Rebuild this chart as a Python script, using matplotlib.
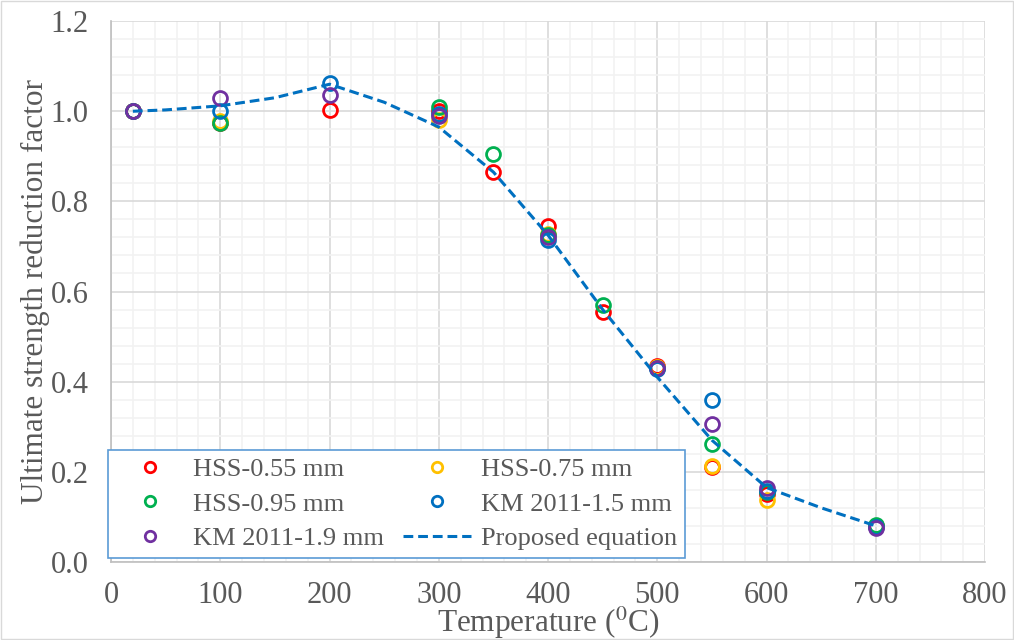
import matplotlib.pyplot as plt
from matplotlib.patches import Rectangle
from matplotlib.ticker import MultipleLocator

plt.rcParams['font.family'] = ['Liberation Serif', 'DejaVu Serif']
plt.rcParams['mathtext.fontset'] = 'stix'

# Test data (temperature in deg C, reduction factor)
t_055 = [20, 100, 200, 300, 350, 400, 450, 500, 550, 600, 700]
f_055 = [1.0, 0.975, 1.003, 1.0, 0.865, 0.745, 0.555, 0.435, 0.21, 0.15, 0.08]

t_075 = [20, 100, 300, 400, 500, 550, 600, 700]
f_075 = [1.0, 0.978, 0.98, 0.727, 0.432, 0.213, 0.137, 0.08]

t_095 = [20, 100, 300, 350, 400, 450, 500, 550, 600, 700]
f_095 = [1.0, 0.975, 1.01, 0.905, 0.725, 0.57, 0.43, 0.262, 0.155, 0.083]

t_km15 = [20, 100, 200, 300, 400, 500, 550, 600, 700]
f_km15 = [1.0, 1.0, 1.063, 0.995, 0.715, 0.428, 0.36, 0.158, 0.078]

t_km19 = [20, 100, 200, 300, 400, 500, 550, 600, 700]
f_km19 = [1.0, 1.03, 1.035, 0.99, 0.72, 0.43, 0.305, 0.163, 0.075]

# proposed equation curve
t_eq = [20, 50, 100, 150, 200, 250, 300, 350, 400, 450, 500, 550, 600, 650, 700]
f_eq = [1.0, 1.003, 1.012, 1.03, 1.06, 1.02, 0.965, 0.865, 0.725, 0.56, 0.41, 0.27, 0.165, 0.12, 0.08]

fig = plt.figure(figsize=(10.14, 6.4), dpi=100)
ax = fig.add_axes([0.1095, 0.122, 0.862, 0.845])

mk = dict(linestyle='none', marker='o', markersize=10, markerfacecolor='none', markeredgewidth=2)
h1, = ax.plot(t_055, f_055, color='#FF0000', label='HSS-0.55 mm', **mk)
h2, = ax.plot(t_075, f_075, color='#FFC000', label='HSS-0.75 mm', **mk)
h3, = ax.plot(t_095, f_095, color='#00B050', label='HSS-0.95 mm', **mk)
h4, = ax.plot(t_km15, f_km15, color='#0070C0', label='KM 2011-1.5 mm', **mk)
h5, = ax.plot(t_km19, f_km19, color='#7030A0', label='KM 2011-1.9 mm', **mk)
h6, = ax.plot(t_eq, f_eq, color='#0070C0', linestyle=(0, (3.2, 1.6)), linewidth=2.2,
              label='Proposed equation')

ax.set_xlim(0, 800)
ax.set_ylim(0, 1.2)
ax.xaxis.set_major_locator(MultipleLocator(100))
ax.xaxis.set_minor_locator(MultipleLocator(20))
ax.yaxis.set_major_locator(MultipleLocator(0.2))
ax.yaxis.set_minor_locator(MultipleLocator(0.04))
ax.yaxis.set_major_formatter(plt.FormatStrFormatter('%.1f'))
ax.grid(which='major', color='#D9D9D9', linewidth=1.2)
ax.grid(which='minor', color='#F2F2F2', linewidth=1.2)
ax.set_axisbelow(True)
ax.tick_params(which='both', length=0, labelsize=22, labelcolor='#595959')
ax.tick_params(axis='x', pad=14)
ax.tick_params(axis='y', pad=16)
for s in ['top', 'right']:
    ax.spines[s].set_visible(False)
for s in ['left', 'bottom']:
    ax.spines[s].set_color('#BFBFBF')
    ax.spines[s].set_linewidth(1.2)

ax.set_xlabel('Temperature ($^{0}$C)', fontsize=22.5, color='#595959')
ax.xaxis.set_label_coords(0.5, -0.08)
ax.set_ylabel('Ultimate strength reduction factor', fontsize=22.5, color='#595959')
ax.yaxis.set_label_coords(-0.07, 0.5)

leg = ax.legend(handles=[h1, h3, h5, h2, h4, h6], ncol=2, loc='lower left',
                bbox_to_anchor=(-0.004, 0.007), borderaxespad=0, fontsize=19,
                frameon=True, fancybox=False, framealpha=1, edgecolor='#5B9BD5',
                handlelength=2.6, columnspacing=0.7, labelspacing=0.42,
                borderpad=0.3, handletextpad=0.35, markerscale=0.75)
for t in leg.get_texts():
    t.set_color('#595959')
leg.get_frame().set_linewidth(1.2)

fig.patches.append(Rectangle((0.001, 0.001), 0.998, 0.997, transform=fig.transFigure,
                             fill=False, edgecolor='#D9D9D9', linewidth=1))

plt.savefig('out.png', dpi=100)
